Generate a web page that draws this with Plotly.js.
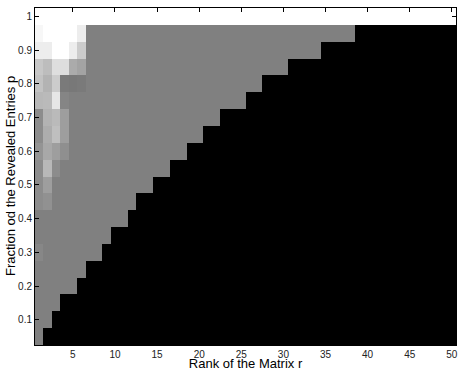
<!DOCTYPE html>
<html>
<head>
<meta charset="utf-8">
<script src="https://cdn.plot.ly/plotly-3.0.1.min.js"></script>
<style>html,body{margin:0;padding:0;background:#fff;}#chart{width:459px;height:371px;}</style>
</head>
<body>
<div id="chart"></div>
<script>
// Rank r (columns) and fraction p (rows)
var ranks = [];
for (var i = 1; i <= 50; i++) ranks.push(i);
var pValues = [0.05,0.1,0.15,0.2,0.25,0.3,0.35,0.4,0.45,0.5,0.55,0.6,0.65,0.7,0.75,0.8,0.85,0.9,0.95,1.0];
// Largest rank that is not black (0), per p row
var lastNonBlackRank = [1,2,3,5,6,8,9,11,12,14,16,18,20,22,25,27,30,34,38,50];
// Success level of the plain (mid-grey) region
var baseLevel = 0.5;
// Top row fully recovered
var fullRow = 1.0;
// Light patch values for ranks 1..6, rows p = 0.3 .. 0.95
var patchP = [0.3,0.35,0.4,0.45,0.5,0.55,0.6,0.65,0.7,0.75,0.8,0.85,0.9,0.95];
var patch = [
  [0.53,0.5,0.5,0.5,0.5,0.5],
  [0.5,0.5,0.5,0.5,0.5,0.5],
  [0.5,0.5,0.5,0.5,0.5,0.5],
  [0.55,0.57,0.5,0.5,0.5,0.5],
  [0.55,0.62,0.5,0.5,0.5,0.5],
  [0.55,0.72,0.55,0.5,0.5,0.5],
  [0.58,0.66,0.62,0.56,0.5,0.5],
  [0.55,0.68,0.75,0.62,0.5,0.5],
  [0.55,0.7,0.73,0.62,0.5,0.5],
  [0.72,0.73,0.9,0.52,0.5,0.5],
  [0.76,0.7,0.8,0.48,0.47,0.48],
  [0.78,0.74,0.87,0.87,0.67,0.64],
  [0.93,0.93,1.0,1.0,0.93,0.8],
  [0.97,1.0,1.0,1.0,1.0,0.93]
];
var xTitle = 'Rank of the Matrix r';
var yTitle = 'Fraction od the Revealed Entries p';

var z = pValues.map(function(p, ri) {
  var row = [];
  var pi = patchP.findIndex(function(q){ return Math.abs(q - p) < 1e-9; });
  for (var c = 0; c < ranks.length; c++) {
    var r = ranks[c];
    var v;
    if (Math.abs(p - 1.0) < 1e-9) v = fullRow;
    else if (r > lastNonBlackRank[ri]) v = 0;
    else if (pi >= 0 && c < 6) v = patch[pi][c];
    else v = baseLevel;
    row.push(v);
  }
  return row;
});

var trace = {
  type: 'heatmap',
  x: ranks,
  y: pValues,
  z: z,
  zmin: 0, zmax: 1,
  colorscale: [[0,'#000000'],[1,'#ffffff']],
  showscale: false,
  xgap: 0, ygap: 0
};

var fontFam = 'Liberation Sans, Arial, Helvetica, sans-serif';
var layout = {
  width: 459, height: 371,
  margin: {l: 35, r: 3, t: 8, b: 26},
  paper_bgcolor: '#ffffff',
  plot_bgcolor: '#ffffff',
  font: {family: fontFam, size: 10, color: '#222'},
  xaxis: {
    range: [0.5, 50.5],
    tickvals: [5,10,15,20,25,30,35,40,45,50],
    ticks: 'inside', ticklen: 4, tickcolor: '#000',
    showline: true, linecolor: '#000', linewidth: 1, mirror: 'ticks',
    showgrid: false, zeroline: false,
    tickfont: {size: 10, color: '#222'},
    title: {text: xTitle, font: {size: 13, color: '#000'}, standoff: 0}
  },
  yaxis: {
    range: [0.025, 1.025],
    tickvals: [0.1,0.2,0.3,0.4,0.5,0.6,0.7,0.8,0.9,1],
    ticktext: ['0.1','0.2','0.3','0.4','0.5','0.6','0.7','0.8','0.9','1'],
    ticks: 'inside', ticklen: 4, tickcolor: '#000',
    showline: true, linecolor: '#000', linewidth: 1, mirror: 'ticks',
    showgrid: false, zeroline: false,
    tickfont: {size: 10, color: '#222'}
  },
  annotations: [{
    text: yTitle,
    xref: 'paper', yref: 'paper',
    x: 0, y: 0.5,
    xanchor: 'right', yanchor: 'middle',
    xshift: -15,
    textangle: -90,
    showarrow: false,
    font: {family: fontFam, size: 13, color: '#000'}
  }]
};

Plotly.newPlot('chart', [trace], layout, {staticPlot: true, displayModeBar: false});
</script>
</body>
</html>
